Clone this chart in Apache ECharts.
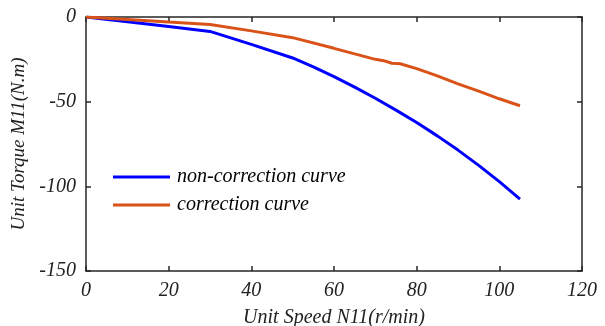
<!DOCTYPE html>
<html><head><meta charset="utf-8">
<script src="https://cdn.jsdelivr.net/npm/echarts@6/dist/echarts.min.js"></script>
<style>html,body{margin:0;padding:0;background:#fff}#c{width:605px;height:326px}</style>
</head><body><div id="c"></div>
<script>
const blueX = [0, 10, 20, 30, 40, 50, 55, 60, 65, 70, 75, 80, 85, 90, 95, 100, 105];
const blueY = [0, -2.8, -5.6, -8.5, -16.2, -24.2, -29.5, -35.2, -41.4, -48, -55, -62.3, -70.2, -78.6, -87.6, -97.2, -107.5];
const orangeX = [0, 10, 20, 30, 40, 50, 60, 65, 70, 72, 74, 76, 80, 85, 90, 95, 100, 105];
const orangeY = [0, -1.5, -3, -4.4, -8.2, -12.2, -18.5, -21.8, -25, -25.8, -27.3, -27.6, -30.5, -34.8, -39.5, -43.8, -48.3, -52.4];
const xTicks = [0, 20, 40, 60, 80, 100, 120];
const yTicks = [-150, -100, -50, 0];
const seriesNames = ['non-correction curve', 'correction curve'];

const font = 'Liberation Serif';
const axisColor = '#262626';
const pair = (xs, ys) => xs.map((x, i) => [x, ys[i]]);

const chart = echarts.init(document.getElementById('c'), null, {renderer: 'canvas'});
const baseAxis = {
  axisLine: {show: true, onZero: false, lineStyle: {color: axisColor, width: 1.5}},
  axisTick: {show: true, inside: true, length: 5, lineStyle: {color: axisColor, width: 1.5}},
  splitLine: {show: false}
};
const txt = {fontFamily: font, fontStyle: 'italic', fontSize: 20, color: '#222'};
chart.setOption({
  animation: false,
  grid: {left: 86, right: 23, top: 17, bottom: 55, containLabel: false, outerBoundsMode: 'none'},
  legend: {
    orient: 'vertical', left: 108, top: 162, itemWidth: 57, itemHeight: 3, itemGap: 8,
    icon: 'rect',
    textStyle: {fontFamily: font, fontStyle: 'italic', fontSize: 20, color: '#000', padding: [0, 0, 0, 2]},
    data: seriesNames
  },
  xAxis: [
    Object.assign({}, baseAxis, {
      type: 'value', min: xTicks[0], max: xTicks[xTicks.length - 1], interval: 20, position: 'bottom',
      name: 'Unit Speed N11(r/min)', nameLocation: 'middle', nameGap: 37,
      nameTextStyle: txt,
      axisLabel: Object.assign({margin: 10}, txt)
    }),
    Object.assign({}, baseAxis, {
      type: 'value', min: xTicks[0], max: xTicks[xTicks.length - 1], interval: 20, position: 'top',
      axisLabel: {show: false}
    })
  ],
  yAxis: [
    Object.assign({}, baseAxis, {
      type: 'value', min: yTicks[0], max: yTicks[yTicks.length - 1], interval: 50, position: 'left',
      name: 'Unit Torque M11(N.m)', nameLocation: 'middle', nameGap: 48, nameRotate: 90,
      nameTextStyle: Object.assign({}, txt, {fontSize: 19}),
      axisLabel: Object.assign({margin: 10}, txt)
    }),
    Object.assign({}, baseAxis, {
      type: 'value', min: yTicks[0], max: yTicks[yTicks.length - 1], interval: 50, position: 'right',
      axisLabel: {show: false}
    })
  ],
  series: [
    {name: seriesNames[0], type: 'line', data: pair(blueX, blueY), showSymbol: false, symbol: 'none',
     lineStyle: {color: '#0000ff', width: 3}, itemStyle: {color: '#0000ff'}},
    {name: seriesNames[1], type: 'line', data: pair(orangeX, orangeY), showSymbol: false, symbol: 'none',
     lineStyle: {color: '#d95319', width: 3}, itemStyle: {color: '#d95319'}}
  ]
});
</script></body></html>
